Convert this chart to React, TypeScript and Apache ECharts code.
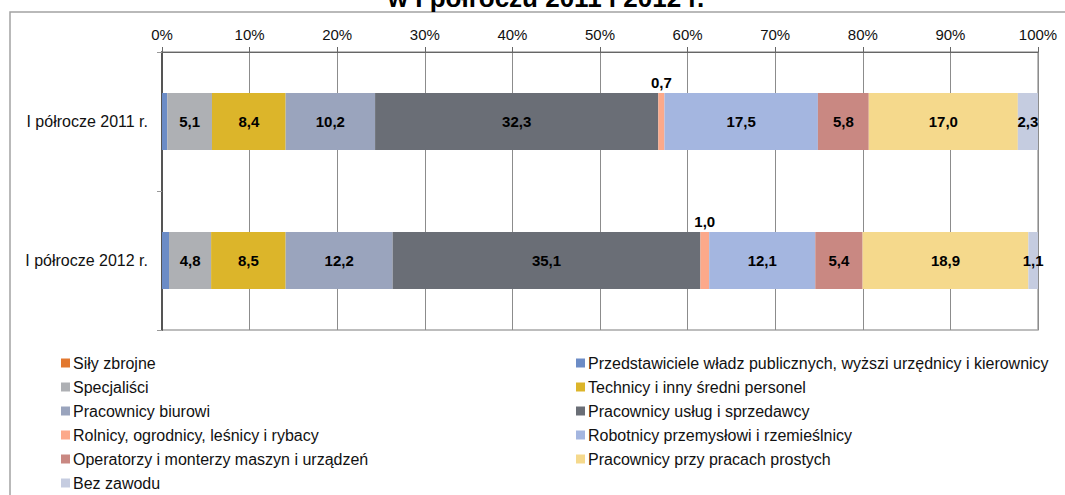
import React, { useEffect, useRef } from "react";
import * as echarts from "echarts";

const titleText = "w I półroczu 2011 i 2012 r.";
const categories = ["I półrocze 2011 r.", "I półrocze 2012 r."];
const seriesNames = [
  "Siły zbrojne",
  "Przedstawiciele władz publicznych, wyższi urzędnicy i kierownicy",
  "Specjaliści",
  "Technicy i inny średni personel",
  "Pracownicy biurowi",
  "Pracownicy usług i sprzedawcy",
  "Rolnicy, ogrodnicy, leśnicy i rybacy",
  "Robotnicy przemysłowi i rzemieślnicy",
  "Operatorzy i monterzy maszyn i urządzeń",
  "Pracownicy przy pracach prostych",
  "Bez zawodu",
];
const values2011 = [0.0, 0.6, 5.1, 8.4, 10.2, 32.3, 0.7, 17.5, 5.8, 17.0, 2.3];
const values2012 = [0.0, 0.8, 4.8, 8.5, 12.2, 35.1, 1.0, 12.1, 5.4, 18.9, 1.1];
const xTicks = [0, 10, 20, 30, 40, 50, 60, 70, 80, 90, 100];

const colors = [
  "#E2782F",
  "#6C8CC6",
  "#AEB0B4",
  "#DCB52A",
  "#9AA4BD",
  "#6A6E76",
  "#FCA98A",
  "#A4B6E0",
  "#C98882",
  "#F5D98C",
  "#C5CCE0",
];
const hiddenLabel = [true, true, false, false, false, false, false, false, false, false, false];
const topLabel = [false, false, false, false, false, false, true, false, false, false, false];

const FONT = '"Liberation Sans", Arial, sans-serif';

export default function App() {
  const ref = useRef<HTMLDivElement>(null);
  useEffect(() => {
    if (!ref.current) return;
    const chart = echarts.init(ref.current, undefined, { renderer: "svg" });
    const rows = [values2011, values2012];
    const totals = rows.map((r) => r.reduce((a, b) => a + b, 0));
    const fmt = (v: number) => v.toFixed(1).replace(".", ",");

    const series = seriesNames.map((name, si) => ({
      name,
      type: "bar",
      stack: "total",
      barWidth: 57,
      itemStyle: { color: colors[si] },
      label: {
        show: !hiddenLabel[si],
        position: topLabel[si] ? "top" : "inside",
        distance: 3,
        color: "#000",
        fontSize: 15,
        fontWeight: "bold",
        fontFamily: FONT,
        formatter: (p: any) => fmt(rows[p.dataIndex][si]),
      },
      emphasis: { disabled: true },
      data: rows.map((r, ci) => (r[si] / totals[ci]) * 100),
    }));

    const leftNames = seriesNames.filter((_, i) => i % 2 === 0);
    const rightNames = seriesNames.filter((_, i) => i % 2 === 1);
    const legendBase = {
      orient: "vertical",
      top: 355,
      padding: 0,
      itemWidth: 9,
      itemHeight: 9,
      itemGap: 8,
      icon: "rect",
      selectedMode: false,
      textStyle: { fontSize: 16, lineHeight: 16, color: "#111", fontFamily: FONT, padding: [0, 0, 0, -2] },
    };

    chart.setOption({
      animation: false,
      textStyle: { fontFamily: FONT },
      graphic: [
        {
          type: "rect",
          z: -10,
          shape: { x: 10, y: 12, width: 1100, height: 600 },
          style: { fill: "none", stroke: "#a3a3a3", lineWidth: 1.5 },
        },
        {
          type: "text",
          x: 546,
          y: -2,
          style: {
            text: titleText,
            font: 'bold 26px "Liberation Sans", Arial, sans-serif',
            fill: "#000",
            textAlign: "center",
            textVerticalAlign: "middle",
          },
        },
      ],
      grid: {
        left: 162,
        right: 27,
        top: 52,
        bottom: 165,
        show: true,
        borderColor: "#a8a8a8",
        borderWidth: 1.5,
      },
      legend: [
        { ...legendBase, left: 61, data: leftNames },
        { ...legendBase, left: 576, data: rightNames },
      ],
      xAxis: {
        type: "value",
        position: "top",
        min: xTicks[0],
        max: xTicks[xTicks.length - 1],
        interval: 10,
        axisLine: { show: true, lineStyle: { color: "#666", width: 1 } },
        axisTick: { show: true, length: 5, lineStyle: { color: "#666" } },
        splitLine: { show: true, lineStyle: { color: "#8c8c8c", width: 1 } },
        axisLabel: {
          margin: 10,
          fontSize: 15,
          color: "#111",
          fontFamily: FONT,
          formatter: "{value}%",
        },
      },
      yAxis: {
        type: "category",
        inverse: true,
        data: categories,
        axisLine: { show: true, lineStyle: { color: "#555", width: 2 } },
        axisTick: { show: true, length: 5, lineStyle: { color: "#999" } },
        axisLabel: { margin: 14, fontSize: 16, color: "#111", fontFamily: FONT },
      },
      series,
    });
    return () => chart.dispose();
  }, []);
  return (
    <div
      ref={ref}
      style={{ position: "absolute", left: 0, top: 0, width: 1065, height: 495, background: "#fff" }}
    />
  );
}
